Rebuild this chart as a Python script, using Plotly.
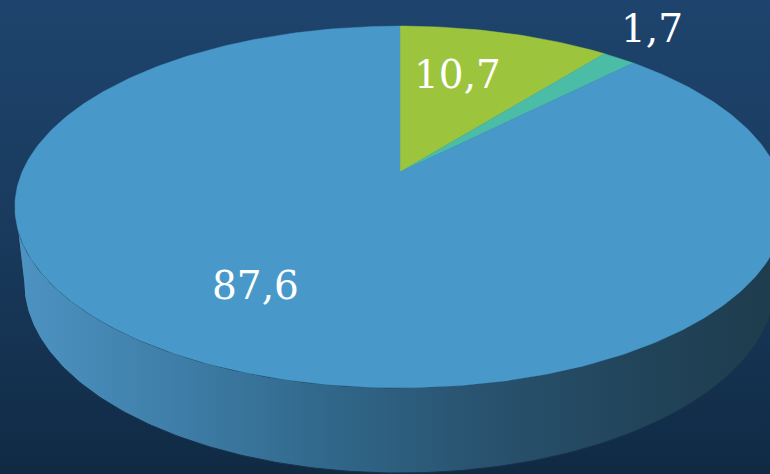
import numpy as np
import plotly.graph_objects as go

# ---- data ----
values = [10.7, 1.7, 87.6]
value_labels = ["10,7", "1,7", "87,6"]
slice_colors = ["#9dc43d", "#4bbca5", "#4899c9"]

# ---- 3D pie camera geometry (layout) ----
W, H = 770, 474
CX, CY = 400.0, 172.0
SIN_A, COS_A = 0.4608, 0.8875
DIST, FOC, DEPTH = 4.589, 1734.0, 0.2251


def project(u, v, z):
    dz = DIST + v * COS_A - z * SIN_A
    sy = v * SIN_A + z * COS_A
    return CX + FOC * u / dz, CY - FOC * sy / dz


def rim(t0, t1, z, n=200):
    th = np.linspace(t0, t1, n)
    return project(np.sin(th), np.cos(th), z)


fig = go.Figure()

# background
fig.add_trace(go.Scatter(
    x=[0, W, W, 0, 0], y=[0, 0, H, H, 0], mode="lines", line=dict(width=0),
    fill="toself", hoverinfo="skip", showlegend=False,
    fillgradient=dict(type="vertical",
                      colorscale=[[0, "#102a44"], [0.5, "#193a5d"], [1, "#1e446d"]]),
))

# side of the cylinder
k_top = COS_A / DIST
k_bot = COS_A / (DIST + DEPTH * SIN_A)
tr_top = np.arccos(-k_top)
tr_bot = np.arccos(-k_bot)
xt, yt = rim(tr_top, 2 * np.pi - tr_top, 0.0)
xb, yb = rim(2 * np.pi - tr_bot, tr_bot, -DEPTH)
sx = np.concatenate([xt, xb, xt[:1]])
sy = np.concatenate([yt, yb, yt[:1]])
fig.add_trace(go.Scatter(
    x=sx, y=sy, mode="lines", line=dict(width=1, color="#18324a"),
    fill="toself", hoverinfo="skip", showlegend=False,
    fillgradient=dict(type="horizontal",
                      colorscale=[[0, "#4d93c3"], [0.2, "#3f7fa9"], [0.4, "#31688b"],
                                  [0.6, "#295370"], [0.8, "#22455b"], [1, "#1d3b4c"]]),
))

# top face wedges
total = sum(values)
start = 0.0
for val, col in zip(values, slice_colors):
    a0 = 2 * np.pi * start / total
    a1 = 2 * np.pi * (start + val) / total
    ax, ay = rim(a0, a1, 0.0, n=max(20, int(400 * val / total)))
    px = np.concatenate([[CX], ax, [CX]])
    py = np.concatenate([[CY], ay, [CY]])
    fig.add_trace(go.Scatter(
        x=px, y=py, mode="lines", line=dict(width=0.5, color=col),
        fill="toself", fillcolor=col, hoverinfo="skip", showlegend=False,
    ))
    start += val

# labels
label_pos = [(457, 74), (652, 28), (255, 285)]
for txt, (lx, ly) in zip(value_labels, label_pos):
    fig.add_annotation(x=lx, y=ly, text=txt, showarrow=False,
                       xanchor="center", yanchor="middle",
                       font=dict(family="DejaVu Serif", size=39, color="#ffffff"))

fig.update_layout(
    width=W, height=H, margin=dict(l=0, r=0, t=0, b=0),
    paper_bgcolor="#193a5d", plot_bgcolor="#193a5d",
    xaxis=dict(range=[0, W], visible=False, fixedrange=True),
    yaxis=dict(range=[H, 0], visible=False, fixedrange=True),
    showlegend=False,
)

fig.write_html("out.html", config={"displayModeBar": False},
               post_script="document.body.style.margin='0';document.body.style.overflow='hidden';")
